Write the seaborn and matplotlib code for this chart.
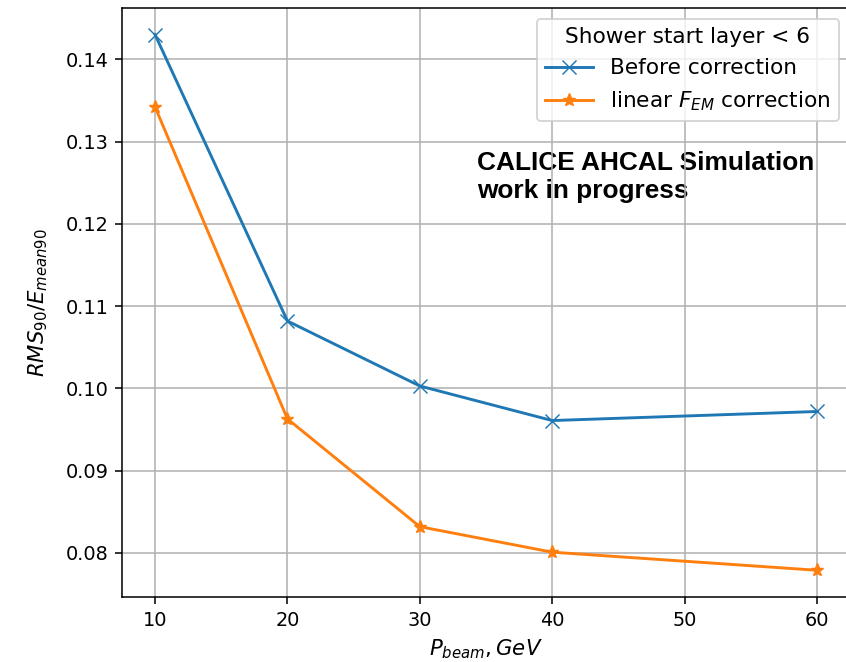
import matplotlib
matplotlib.use("Agg")
import matplotlib.pyplot as plt
import seaborn as sns
import pandas as pd

# Beam momenta (GeV) and relative resolution RMS90/Emean90
p_beam = [10, 20, 30, 40, 60]
before_corr = [0.1430, 0.1082, 0.1003, 0.0961, 0.0972]
linear_fem_corr = [0.1342, 0.0963, 0.0832, 0.0801, 0.0779]

label_before = "Before correction"
label_linear = "linear $F_{EM}$ correction"

series = [
    (label_before, before_corr, "#1f77b4", "x"),
    (label_linear, linear_fem_corr, "#ff7f0e", "*"),
]

DPI = 139
fig = plt.figure(figsize=(846 / DPI, 662 / DPI), dpi=DPI)
ax = fig.add_axes([122 / 846, 1 - 597 / 662, 728 / 846, 589 / 662])

for label, values, color, marker in series:
    df = pd.DataFrame({"p": p_beam, "res": values})
    sns.lineplot(data=df, x="p", y="res", color=color, marker=marker,
                 markeredgecolor=color, markersize=7, label=label, ax=ax)

ax.set_axisbelow(True)
ax.grid(True, color="#b0b0b0", linewidth=0.8)
ax.spines["right"].set_visible(False)
ax.set_xticks([10, 20, 30, 40, 50, 60])
ax.set_yticks([0.08, 0.09, 0.10, 0.11, 0.12, 0.13, 0.14])
ax.set_xlim(7.5, 62.5)
ax.set_ylim(0.07465, 0.14625)

ax.set_xlabel("$P_{beam}, GeV$", fontsize=11)
ax.set_ylabel("$RMS_{90}/E_{mean90}$", fontsize=11, labelpad=8)

ax.legend(title="Shower start layer < 6", loc="upper right",
          fontsize=11.2, title_fontsize=11.2, handlelength=2.2)

ax.text(0.4876, 0.757, "CALICE AHCAL Simulation\nwork in progress",
        transform=ax.transAxes, ha="left", va="top",
        fontsize=13.6, fontweight="bold", family="Liberation Sans",
        linespacing=1.2, zorder=0.4)

fig.savefig("out.png", dpi=DPI)
